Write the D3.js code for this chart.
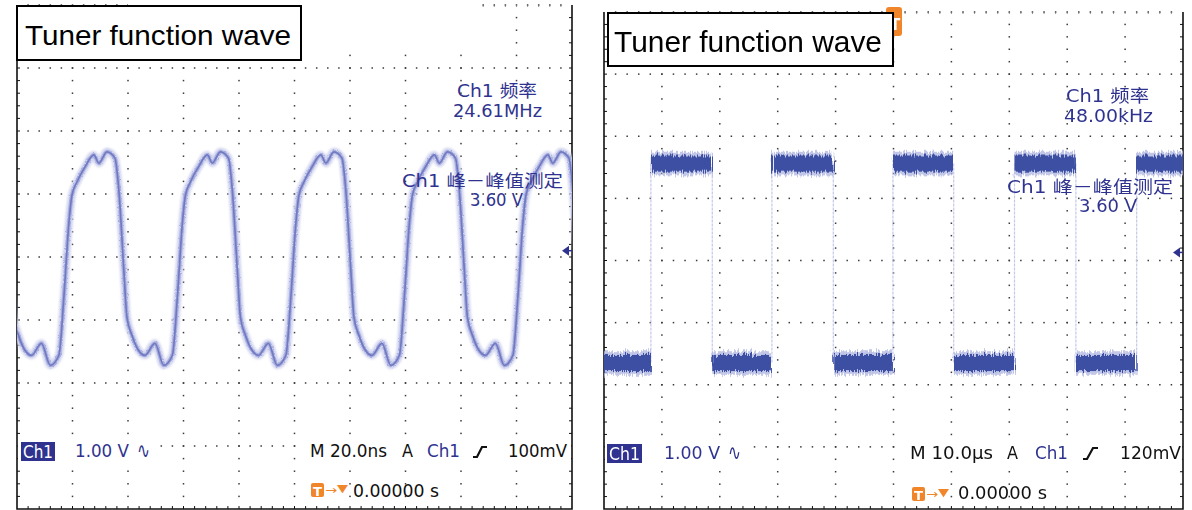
<!DOCTYPE html>
<html><head><meta charset="utf-8">
<script src="https://cdn.jsdelivr.net/npm/d3@7"></script>
<style>body{margin:0;background:#fff}svg{display:block}</style>
</head><body>
<svg id="c" width="1192" height="510"></svg>
<script>
// ================= DATA =================
const titleText = "Tuner function wave";

// Left screen: one cycle of the tuner waveform (time from rise foot in ns, volts)
const cycleTimesNs = [0, 1.8, 3.6, 4.7, 6.5, 9.4, 12.6, 14.4, 17.3, 20.2, 21.6, 23.4, 24.5, 26.3, 31.0, 34.6, 37.8, 40.9];
const cycleVolts   = [-1.56, -0.63, 0.54, 0.98, 1.19, 1.43, 1.62, 1.49, 1.67, 1.57, 1.06, -0.21, -0.95, -1.24, -1.56, -1.37, -1.72, -1.56];
// start time (ns) of each cycle visible on screen
const cycleStartsNs = [-25.8, 15.1, 56.0, 96.9, 137.8, 178.7];

// Right screen: square wave, segment edges (µs) and level of each segment (V)
const squareEdgesUs  = [0, 8.1, 18.7, 29.0, 39.6, 49.9, 60.4, 70.9, 81.5, 92.0, 100];
const squareLevelsV  = [-1.65, 1.56, -1.65, 1.56, -1.65, 1.56, -1.65, 1.56, -1.65, 1.56];

// readouts
const leftReadouts  = {freqLabel: "Ch1 频率", freq: "24.61MHz", ppLabel: "Ch1 峰－峰值测定", pp: "3.60 V",
  scale: "1.00 V", time: "M 20.0ns", trigLevel: "100mV", trigPos: "0.00000 s"};
const rightReadouts = {freqLabel: "Ch1 频率", freq: "48.00kHz", ppLabel: "Ch1 峰－峰值测定", pp: "3.60 V",
  scale: "1.00 V", time: "M 10.0µs", trigLevel: "120mV", trigPos: "0.00000 s"};
const voltDomain = [-4, 4];

// ================= DRAW =================
const svg = d3.select("#c");
const BLUE = "#2f338f", ORANGE = "#f0852a";
const SCOPE_FONT = "'DejaVu Sans', 'Noto Sans CJK SC', sans-serif";

const panels = [
  {x: d3.scaleLinear([0, 200], [17, 572]), y: d3.scaleLinear(voltDomain, [509, 5]), id: "L"},
  {x: d3.scaleLinear([0, 100], [604, 1183]), y: d3.scaleLinear(voltDomain, [509, 12]), id: "R"}
];

function drawGrid(g, xs, ys) {
  const [xa, xb] = xs.range(), [yb, ya] = ys.range();
  const d = xs.domain(), step = (d[1] - d[0]) / 10;
  const xMaj = d3.range(0, 11).map(i => d[0] + i * step);
  const xMin = d3.range(0, 51).map(i => d[0] + i * step / 5);
  const yMaj = d3.range(-4, 5, 1);
  const yMin = d3.range(0, 41).map(i => -4 + i * 0.2);
  const dots = [];
  yMaj.filter(v => v > -4).forEach(v => xMin.slice(1, -1).forEach(t => dots.push([xs(t), ys(v)])));
  xMaj.slice(1, -1).forEach(t => yMin.slice(1, -1).forEach(v => dots.push([xs(t), ys(v)])));
  g.append("g").selectAll("rect").data(dots).join("rect")
    .attr("x", p => p[0] - 0.75).attr("y", p => p[1] - 0.75)
    .attr("width", 1.5).attr("height", 1.5).attr("fill", "#3a3a3a");
  const b = g.append("g").attr("stroke", "#111").attr("fill", "none");
  b.append("path").attr("d", `M${xa},${ya}V${yb}H${xb}V${ya}`).attr("stroke-width", 1.6);
  yMin.slice(1, -1).forEach(v => {
    b.append("line").attr("x1", xa).attr("x2", xa + 3).attr("y1", ys(v)).attr("y2", ys(v)).attr("stroke-width", 1);
    b.append("line").attr("x1", xb - 3).attr("x2", xb).attr("y1", ys(v)).attr("y2", ys(v)).attr("stroke-width", 1);
  });
  xMin.slice(1, -1).forEach(t => {
    b.append("line").attr("x1", xs(t)).attr("x2", xs(t)).attr("y1", yb).attr("y2", yb - 3).attr("stroke-width", 1);
    b.append("line").attr("x1", xs(t)).attr("x2", xs(t)).attr("y1", ya).attr("y2", ya + 2).attr("stroke-width", 0.8).attr("stroke", "#777");
  });
}

function txt(g, s, x, y, o = {}) {
  const t = g.append("text").attr("x", x).attr("y", y).text(s)
    .attr("font-family", o.family || SCOPE_FONT).attr("font-size", o.size || 17)
    .attr("fill", o.fill || "#111");
  if (o.len) t.attr("textLength", o.len).attr("lengthAdjust", "spacingAndGlyphs");
  if (o.weight) t.attr("font-weight", o.weight);
  if (o.anchor) t.attr("text-anchor", o.anchor);
  return t;
}

const defs = svg.append("defs");
defs.append("filter").attr("id", "blur").append("feGaussianBlur").attr("stdDeviation", 1.2);
// procedural fuzz for noisy traces
const fz = defs.append("filter").attr("id", "fuzz").attr("x", "-2%").attr("y", "-60%").attr("width", "104%").attr("height", "220%");
fz.append("feTurbulence").attr("type", "fractalNoise").attr("baseFrequency", "0.9 0.03").attr("numOctaves", 2).attr("seed", 3).attr("result", "n");
fz.append("feDisplacementMap").attr("in", "SourceGraphic").attr("in2", "n").attr("scale", 9)
  .attr("xChannelSelector", "R").attr("yChannelSelector", "G");
const fz2 = defs.append("filter").attr("id", "fuzz2").attr("x", "-5%").attr("y", "-5%").attr("width", "110%").attr("height", "110%");
fz2.append("feTurbulence").attr("type", "fractalNoise").attr("baseFrequency", "0.6").attr("numOctaves", 2).attr("seed", 5).attr("result", "n");
fz2.append("feDisplacementMap").attr("in", "SourceGraphic").attr("in2", "n").attr("scale", 3)
  .attr("xChannelSelector", "R").attr("yChannelSelector", "G");

panels.forEach(p => {
  const [xa, xb] = p.x.range(), [yb, ya] = p.y.range();
  defs.append("clipPath").attr("id", "clip" + p.id).append("rect")
    .attr("x", xa).attr("y", ya).attr("width", xb - xa).attr("height", yb - ya);
});

// ---------- LEFT PANEL ----------
{
  const p = panels[0], g = svg.append("g");
  drawGrid(g, p.x, p.y);
  // erased strip at top
  g.append("rect").attr("x", 128).attr("y", 0).attr("width", 354).attr("height", 52).attr("fill", "#fff");

  const pts = [];
  cycleStartsNs.forEach((s, ci) => cycleTimesNs.forEach((dt, i) => {
    if (i === cycleTimesNs.length - 1 && ci < cycleStartsNs.length - 1) return;
    pts.push([s + dt, cycleVolts[i]]);
  }));
  const line = d3.line().x(d => p.x(d[0])).y(d => p.y(d[1])).curve(d3.curveMonotoneX);
  const tg = g.append("g").attr("clip-path", "url(#clipL)").attr("fill", "none").attr("stroke-linejoin", "round");
  tg.append("path").attr("d", line(pts)).attr("stroke", "#d2d5ef").attr("stroke-width", 8).attr("filter", "url(#blur)");
  tg.append("path").attr("d", line(pts)).attr("stroke", "#a9aede").attr("stroke-width", 4).attr("filter", "url(#fuzz2)");
  tg.append("path").attr("d", line(pts)).attr("stroke", "#707ac2").attr("stroke-width", 1.7);

  // trigger level arrow
  const ty = p.y(0.1);
  g.append("path").attr("d", `M562,${ty}l7,-5v10z`).attr("fill", BLUE);
  g.append("line").attr("x1", 566).attr("x2", 572).attr("y1", ty).attr("y2", ty).attr("stroke", BLUE).attr("stroke-width", 1.5);

  // title box
  g.append("rect").attr("x", 17).attr("y", 6).attr("width", 284).attr("height", 54)
    .attr("fill", "#fff").attr("stroke", "#000").attr("stroke-width", 2);
  txt(g, titleText, 25, 45, {family: "'Liberation Sans', Arial, sans-serif", size: 28, len: 266, fill: "#000"});

  const r = leftReadouts;
  txt(g, r.freqLabel, 457, 97, {fill: BLUE, len: 80});
  txt(g, r.freq, 453, 117, {fill: BLUE, len: 89});
  txt(g, r.ppLabel, 402, 187, {fill: BLUE, len: 161});
  txt(g, r.pp, 470, 206, {fill: BLUE, len: 53});

  // status line
  g.append("rect").attr("x", 18).attr("y", 437).attr("width", 141).attr("height", 28).attr("fill", "#fff");
  g.append("rect").attr("x", 302).attr("y", 437).attr("width", 269).attr("height", 28).attr("fill", "#fff");
  g.append("rect").attr("x", 21).attr("y", 442).attr("width", 34).attr("height", 19).attr("fill", BLUE);
  txt(g, "Ch1", 23, 458, {fill: "#fff", len: 30});
  txt(g, r.scale, 75, 457, {fill: BLUE, len: 54});
  txt(g, "∿", 137, 458, {fill: BLUE, size: 22, len: 13});
  txt(g, r.time, 310, 457, {len: 77});
  txt(g, "A", 402, 457, {len: 11});
  txt(g, "Ch1", 427, 457, {fill: BLUE, len: 33});
  g.append("path").attr("d", "M473,457L477,457L482,447L487,447").attr("stroke", "#111").attr("stroke-width", 2.2).attr("fill", "none");
  txt(g, r.trigLevel, 508, 457, {len: 59});
  g.append("rect").attr("x", 311).attr("y", 483).attr("width", 13).attr("height", 14).attr("rx", 2).attr("fill", ORANGE);
  txt(g, "T", 313, 495.5, {fill: "#fff", size: 13, weight: "bold", len: 9});
  txt(g, "→", 325, 494, {fill: ORANGE, size: 12, len: 12});
  txt(g, "▼", 337, 492, {fill: ORANGE, size: 11, len: 11});
  txt(g, r.trigPos, 353, 497, {len: 86});
}

// ---------- RIGHT PANEL ----------
{
  const p = panels[1], g = svg.append("g");
  drawGrid(g, p.x, p.y);

  const sg = g.append("g").attr("clip-path", "url(#clipR)");
  const segs = squareLevelsV.map((v, i) => ({t0: squareEdgesUs[i], t1: squareEdgesUs[i + 1], v}));
  // faint transition edges
  squareEdgesUs.slice(1, -1).forEach(t => {
    sg.append("line").attr("x1", p.x(t)).attr("x2", p.x(t))
      .attr("y1", p.y(d3.max(squareLevelsV))).attr("y2", p.y(d3.min(squareLevelsV)))
      .attr("stroke", "#c4c8ea").attr("stroke-width", 1.2).attr("stroke-dasharray", "3,1");
  });
  const band = sg.append("g").attr("filter", "url(#fuzz)");
  band.selectAll("rect.halo").data(segs).join("rect").attr("class", "halo")
    .attr("x", d => p.x(d.t0)).attr("width", d => p.x(d.t1) - p.x(d.t0))
    .attr("y", d => p.y(d.v + 0.19)).attr("height", d => p.y(d.v - 0.19) - p.y(d.v + 0.19))
    .attr("fill", "#b3b9e2").attr("opacity", 0.8);
  band.selectAll("rect.core").data(segs).join("rect").attr("class", "core")
    .attr("x", d => p.x(d.t0)).attr("width", d => p.x(d.t1) - p.x(d.t0))
    .attr("y", d => p.y(d.v + 0.13)).attr("height", d => p.y(d.v - 0.13) - p.y(d.v + 0.13))
    .attr("fill", "#3d50a3");

  const ty = p.y(0.13);
  g.append("path").attr("d", `M1173,${ty}l7,-5v10z`).attr("fill", BLUE);
  g.append("line").attr("x1", 1177).attr("x2", 1183).attr("y1", ty).attr("y2", ty).attr("stroke", BLUE).attr("stroke-width", 1.5);

  // trigger position marker
  g.append("rect").attr("x", 886).attr("y", 7).attr("width", 16).attr("height", 29).attr("rx", 3).attr("fill", ORANGE);
  txt(g, "T", 890, 30, {fill: "#fff", size: 15, weight: "bold"});

  g.append("rect").attr("x", 608).attr("y", 13).attr("width", 285).attr("height", 53)
    .attr("fill", "#fff").attr("stroke", "#000").attr("stroke-width", 2);
  txt(g, titleText, 614, 52, {family: "'Liberation Sans', Arial, sans-serif", size: 29, len: 268, fill: "#000"});

  const r = rightReadouts;
  txt(g, r.freqLabel, 1066, 102, {fill: BLUE, len: 83});
  txt(g, r.freq, 1064, 122, {fill: BLUE, len: 89});
  txt(g, r.ppLabel, 1007, 193, {fill: BLUE, len: 166});
  txt(g, r.pp, 1079, 212, {fill: BLUE, len: 58});

  g.append("rect").attr("x", 605).attr("y", 439).attr("width", 147).attr("height", 28).attr("fill", "#fff");
  g.append("rect").attr("x", 900).attr("y", 439).attr("width", 282).attr("height", 28).attr("fill", "#fff");
  g.append("rect").attr("x", 607).attr("y", 444).attr("width", 35).attr("height", 19).attr("fill", BLUE);
  txt(g, "Ch1", 609, 460, {fill: "#fff", len: 31});
  txt(g, r.scale, 664, 459, {fill: BLUE, len: 56});
  txt(g, "∿", 728, 460, {fill: BLUE, size: 22, len: 13});
  txt(g, r.time, 910, 459, {len: 83});
  txt(g, "A", 1007, 459, {len: 11});
  txt(g, "Ch1", 1035, 459, {fill: BLUE, len: 33});
  g.append("path").attr("d", "M1083,459L1087,459L1093,448L1098,448").attr("stroke", "#111").attr("stroke-width", 2.2).attr("fill", "none");
  txt(g, r.trigLevel, 1120, 459, {len: 61});
  g.append("rect").attr("x", 912).attr("y", 487).attr("width", 13).attr("height", 14).attr("rx", 2).attr("fill", ORANGE);
  txt(g, "T", 914, 499.5, {fill: "#fff", size: 13, weight: "bold", len: 9});
  txt(g, "→", 926, 498, {fill: ORANGE, size: 12, len: 12});
  txt(g, "▼", 938, 496, {fill: ORANGE, size: 11, len: 11});
  txt(g, r.trigPos, 958, 499, {len: 89});
}
</script>
</body></html>
